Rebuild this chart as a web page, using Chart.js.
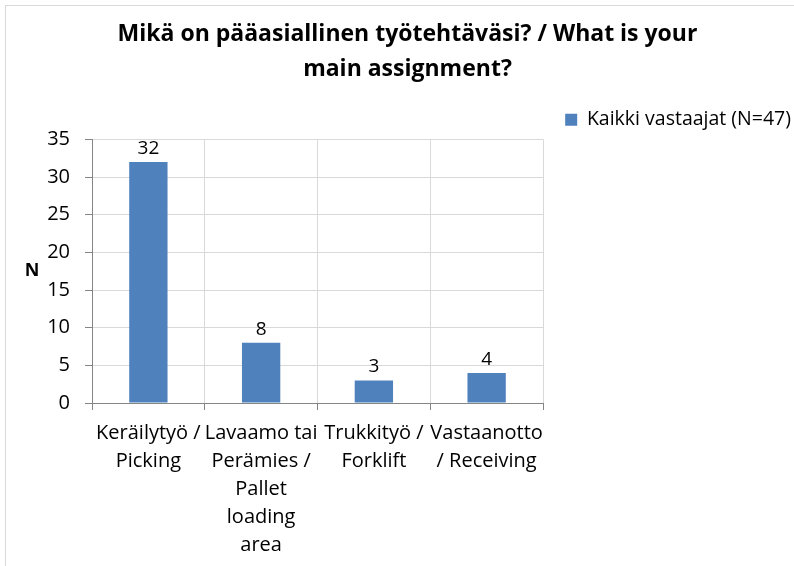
<!DOCTYPE html>
<html>
<head>
<meta charset="utf-8">
<script src="https://cdn.jsdelivr.net/npm/chart.js@4.4.0/dist/chart.umd.min.js"></script>
<style>
  body { margin: 0; background: #fff; }
  #wrap { position: relative; width: 794px; height: 566px; overflow: hidden; }
  #frame { position: absolute; left: 5px; top: 5px; width: 820px; height: 620px; border: 1px solid #d9d9d9; }
  canvas { position: absolute; left: 0; top: 0; }
</style>
</head>
<body>
<div id="wrap">
  <div id="frame"></div>
  <canvas id="chart" width="794" height="566"></canvas>
</div>
<script>
const categories = [
  ['Keräilytyö /', 'Picking'],
  ['Lavaamo tai', 'Perämies /', 'Pallet', 'loading', 'area'],
  ['Trukkityö /', 'Forklift'],
  ['Vastaanotto', '/ Receiving']
];
const seriesName = 'Kaikki vastaajat (N=47)';
const values = [32, 8, 3, 4];
const yTicks = [0, 5, 10, 15, 20, 25, 30, 35];
const yTitle = 'N';

const FONT = "'Open Sans', 'Noto Sans', sans-serif";
const PAD_LEFT = 14;
const PAD_RIGHT = -7;

// value labels above the bars + horizontal "N" axis title
const extraText = {
  id: 'extraText',
  afterDatasetsDraw(chart) {
    const ctx = chart.ctx;
    const meta = chart.getDatasetMeta(0);
    const area = chart.chartArea;
    ctx.save();
    ctx.fillStyle = '#000';
    ctx.textAlign = 'center';
    ctx.font = "19px " + FONT;
    ctx.textBaseline = 'bottom';
    meta.data.forEach((bar, i) => {
      ctx.fillText(values[i], bar.x, bar.y - 4);
    });
    ctx.font = "bold 18px " + FONT;
    ctx.textBaseline = 'middle';
    ctx.fillText(yTitle, 32, (area.top + area.bottom) / 2);
    ctx.restore();
  }
};

new Chart(document.getElementById('chart').getContext('2d'), {
  type: 'bar',
  data: {
    labels: categories,
    datasets: [{
      label: seriesName,
      data: values,
      backgroundColor: '#4f81bd',
      categoryPercentage: 1,
      barPercentage: 0.34
    }]
  },
  options: {
    responsive: false,
    animation: false,
    layout: { padding: { left: PAD_LEFT, right: PAD_RIGHT, top: 17, bottom: -2 } },
    plugins: {
      title: {
        display: true,
        text: ['Mikä on pääasiallinen työtehtäväsi? / What is your', 'main assignment?'],
        color: '#000',
        font: { family: FONT, size: 23, weight: 'bold', lineHeight: 1.52 },
        padding: { top: 0, bottom: 13 }
      },
      legend: {
        position: 'top',
        align: 'end',
        labels: {
          color: '#000',
          font: { family: FONT, size: 19.5 },
          boxWidth: 12,
          boxHeight: 12,
          padding: 10
        }
      },
      tooltip: { enabled: false }
    },
    scales: {
      x: {
        grid: { color: '#d9d9d9', tickColor: '#868686', tickLength: 7, offset: true },
        border: { color: '#868686' },
        ticks: {
          color: '#000',
          font: { family: FONT, size: 20, lineHeight: 1.4 },
          maxRotation: 0,
          autoSkip: false,
          padding: 9
        }
      },
      y: {
        min: 0,
        max: 35,
        afterBuildTicks: (scale) => { scale.ticks = yTicks.map(v => ({ value: v })); },
        afterFit: (scale) => { scale.width = 92 - PAD_LEFT; },
        grid: { color: '#d9d9d9', tickColor: '#868686', tickLength: 7 },
        border: { color: '#868686' },
        ticks: {
          color: '#000',
          font: { family: FONT, size: 20 },
          padding: 15
        }
      },
      // empty right-hand axis that keeps the space beside the plot free, as in the original
      spacer: {
        type: 'linear',
        position: 'right',
        display: true,
        afterFit: (scale) => { scale.width = 794 - 543 - PAD_RIGHT; },
        grid: { display: false },
        border: { display: false },
        ticks: { display: false }
      }
    }
  },
  plugins: [extraText]
});
</script>
</body>
</html>
